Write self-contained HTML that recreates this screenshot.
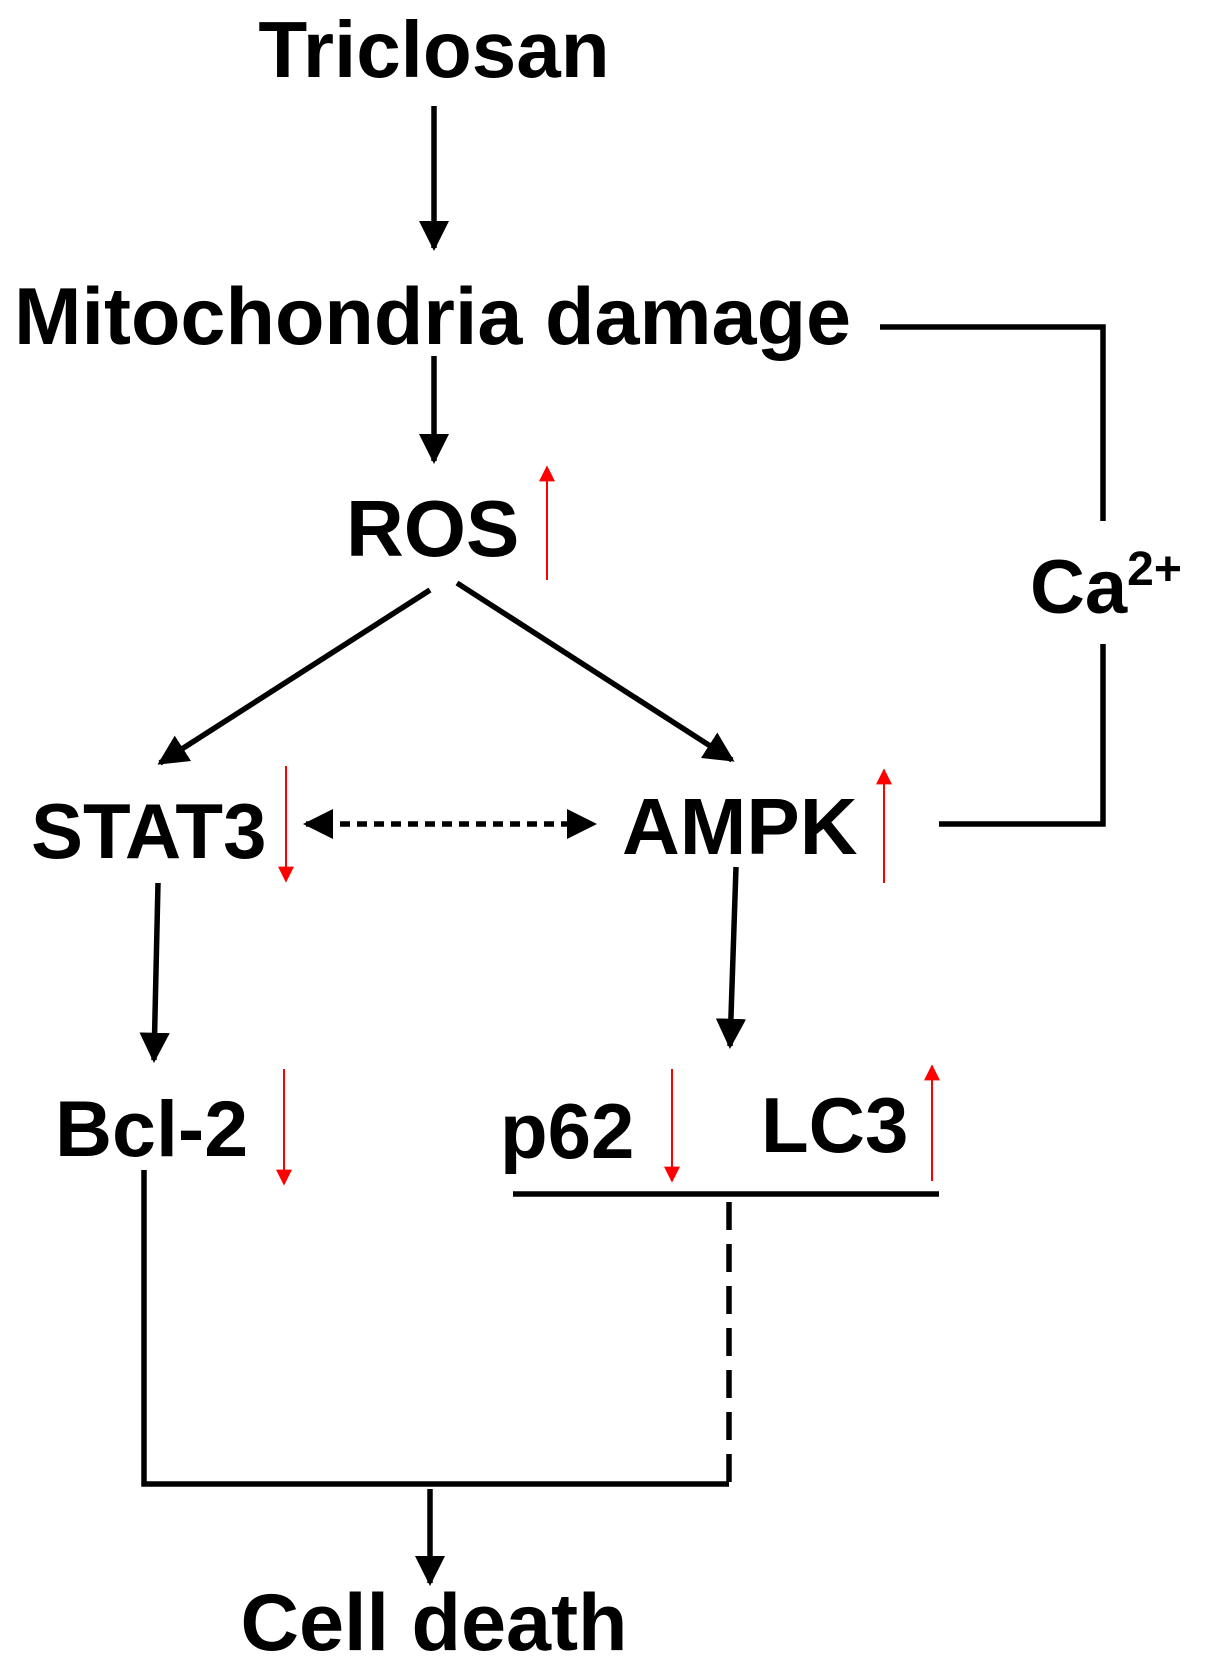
<!DOCTYPE html>
<html><head><meta charset="utf-8"><style>html,body{margin:0;padding:0;background:#fff}svg{display:block}</style></head>
<body>
<svg width="1205" height="1668" viewBox="0 0 1205 1668" xmlns="http://www.w3.org/2000/svg">
<defs>
<marker id="ah" viewBox="0 0 10 10" refX="9" refY="5" markerWidth="5.5" markerHeight="5.5" orient="auto-start-reverse" markerUnits="strokeWidth"><path d="M0,0 L10,5 L0,10 z" fill="#000"/></marker>
<marker id="rh" viewBox="0 0 10 10" refX="9" refY="5" markerWidth="8" markerHeight="8" orient="auto" markerUnits="strokeWidth"><path d="M0,0 L10,5 L0,10 z" fill="#f00"/></marker>
</defs>
<g font-family="Liberation Sans, Arial, sans-serif" font-weight="bold" fill="#000">
<text x="434" y="77" font-size="80" text-anchor="middle">Triclosan</text>
<text x="14" y="344" font-size="81">Mitochondria damage</text>
<text x="346" y="556" font-size="80">ROS</text>
<text x="1030" y="613" font-size="76">Ca<tspan font-size="48" dy="-28">2+</tspan></text>
<text x="31" y="858" font-size="78">STAT3</text>
<text x="622" y="854" font-size="80">AMPK</text>
<text x="55" y="1156" font-size="79">Bcl-2</text>
<text x="500" y="1158" font-size="78">p62</text>
<text x="761" y="1152" font-size="78">LC3</text>
<text x="434" y="1650" font-size="81" text-anchor="middle">Cell death</text>
</g>
<g stroke="#000" stroke-width="5.5" fill="none">
<line x1="434" y1="106" x2="434" y2="248" marker-end="url(#ah)"/>
<line x1="434" y1="356" x2="434" y2="461" marker-end="url(#ah)"/>
<polyline points="880,327 1103,327 1103,521"/>
<polyline points="1103,644 1103,824 939,824"/>
<line x1="430" y1="590" x2="160" y2="763" marker-end="url(#ah)"/>
<line x1="457" y1="583" x2="732" y2="760" marker-end="url(#ah)"/>
<line x1="306" y1="824" x2="594" y2="824" stroke-dasharray="10,7" marker-start="url(#ah)" marker-end="url(#ah)"/>
<line x1="158" y1="883" x2="154" y2="1060" marker-end="url(#ah)"/>
<line x1="736" y1="867" x2="730" y2="1046" marker-end="url(#ah)"/>
<line x1="513" y1="1194" x2="939" y2="1194"/>
<line x1="729" y1="1202" x2="729" y2="1484" stroke-dasharray="28,14"/>
<polyline points="144,1170 144,1484 729,1484"/>
<line x1="430" y1="1489" x2="430" y2="1583" marker-end="url(#ah)"/>
</g>
<g stroke="#f00" stroke-width="2" fill="none">
<line x1="547" y1="580" x2="547" y2="467" marker-end="url(#rh)"/>
<line x1="286" y1="766" x2="286" y2="881" marker-end="url(#rh)"/>
<line x1="884" y1="883" x2="884" y2="770" marker-end="url(#rh)"/>
<line x1="284" y1="1069" x2="284" y2="1184" marker-end="url(#rh)"/>
<line x1="672" y1="1069" x2="672" y2="1181" marker-end="url(#rh)"/>
<line x1="932" y1="1181" x2="932" y2="1066" marker-end="url(#rh)"/>
</g>
</svg>
</body></html>
